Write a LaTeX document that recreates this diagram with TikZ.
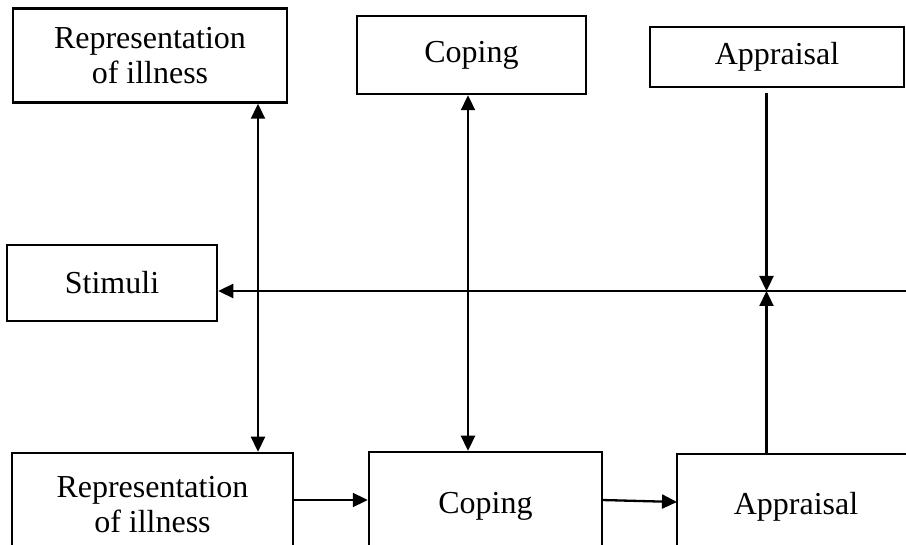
\documentclass[tikz,border=0pt]{standalone}
\usepackage{fontspec}
\setmainfont{Liberation Serif}
\usetikzlibrary{arrows.meta}

\tikzset{
  box/.style={draw, line width=2.5pt, inner sep=0pt, align=center,
              font=\fontsize{32}{35}\selectfont},
  tip/.style={Triangle[length=15pt,width=14pt]},
  link/.style={line width=2.3pt, -{Triangle[length=15pt,width=14pt]}},
  twoway/.style={line width=2.3pt, {Triangle[length=15pt,width=14pt]}-{Triangle[length=15pt,width=14pt]}},
}

\begin{document}
\begin{tikzpicture}[x=1pt, y=-1pt]
  \useasboundingbox (0,0) rectangle (906,545);
  \clip (0,0) rectangle (906,545);

  % upper row
  \node[box, minimum width=274pt, minimum height=94pt] (rep1) at (150,55.5)
       {Representation\\of illness};
  \node[box, minimum width=229pt, minimum height=78pt] (cop1) at (471.5,55) {Coping};
  \node[box, minimum width=254pt, minimum height=60pt] (app1) at (777,57) {Appraisal};

  % stimuli on the left
  \node[box, minimum width=210pt, minimum height=76pt] (stim) at (112,283) {Stimuli};

  % lower row (runs off the page)
  \node[box, minimum width=281pt, minimum height=104pt] (rep2) at (152.5,505)
       {Representation\\of illness};
  \node[box, minimum width=233pt, minimum height=108pt] (cop2) at (485.5,506) {Coping};
  \node[box, minimum width=238pt, minimum height=106pt] (app2) at (796,507) {Appraisal};

  % helper coordinates
  \coordinate (xrep) at (258,0);
  \coordinate (xcop) at (468,0);
  \coordinate (junc) at (766.5,291);
  \coordinate (edge) at (906,291);
  \coordinate (yrow) at (0,500);
  \coordinate (cstart) at (602,500);
  \coordinate (cend) at (677,502);

  % vertical two-way links
  \draw[twoway] (rep1.south -| xrep) -- (rep2.north -| xrep);
  \draw[twoway] (cop1.south -| xcop) -- (cop2.north -| xcop);

  % appraisal feeds into the stimulus line
  \draw[link, shorten <=5pt] (app1.south -| junc) -- (junc);
  \draw[link] (app2.north -| junc) -- (junc);
  \draw[link] (edge) -- (stim.east |- junc);

  % lower row sequence
  \draw[link] (rep2.east |- yrow) -- (cop2.west |- yrow);
  \draw[link] (cstart) -- (cend);
\end{tikzpicture}
\end{document}
